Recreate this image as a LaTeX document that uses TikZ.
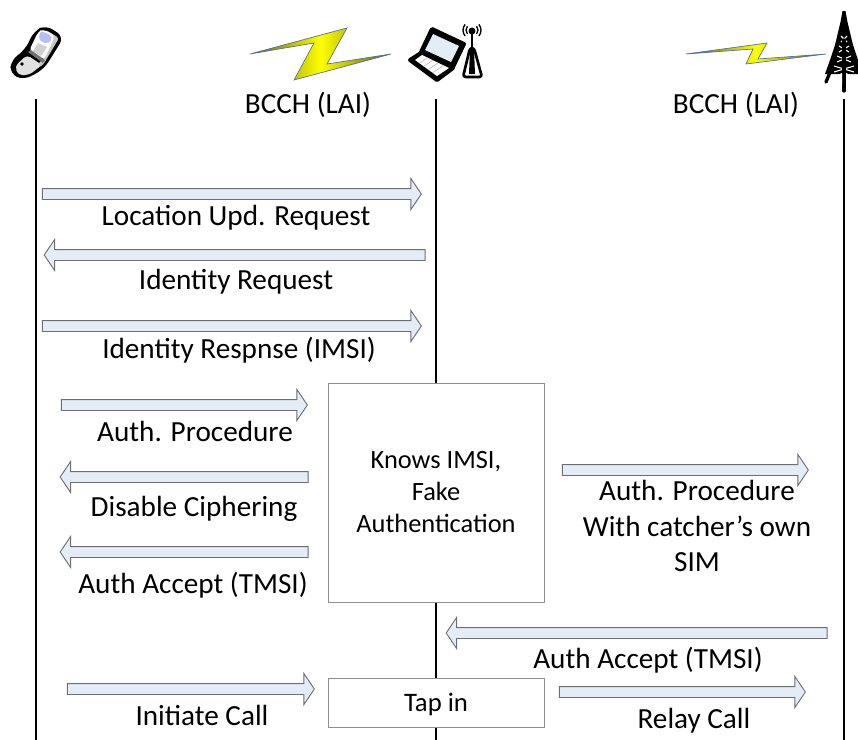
\documentclass[tikz,border=0pt]{standalone}
\usepackage{fontspec}
\setmainfont{Carlito}
\usetikzlibrary{shapes.arrows, shadings, calc}

\definecolor{arrowfill}{HTML}{E4ECF7}
\definecolor{arrowline}{HTML}{6B6F73}
\definecolor{boxline}{HTML}{8F8F8F}
\definecolor{boltdark}{HTML}{5E6010}
\definecolor{boltedge}{HTML}{4F6F98}

\tikzset{
  lifeline/.style={line width=1.1pt, black},
  blockright/.style={draw=arrowline, fill=arrowfill, line width=0.7pt, single arrow, inner xsep=0pt, inner ysep=3.75pt,
    minimum height=#1*0.75pt, minimum width=22.5pt, single arrow head extend=7.5pt, single arrow tip angle=112},
  blockleft/.style={blockright=#1, shape border rotate=180},
  msg/.style={font=\fontsize{21.9}{26.6}\selectfont, align=center, inner sep=0pt},
  boxtext/.style={font=\fontsize{19.8}{24}\selectfont, align=center},
  statebox/.style={draw=boxline, fill=white, line width=0.7pt, inner sep=0pt},
  bolt/.style={draw=boltedge, line width=0.5pt, left color=boltdark, right color=boltdark, middle color=yellow},
  wave/.style={black, line width=1pt}
}

\begin{document}
\begin{tikzpicture}[x=0.75pt, y=-0.75pt]
\useasboundingbox (0,0) rectangle (858,740);
\clip (0,0) rectangle (858,740);

% Lifelines
\coordinate (phonetop) at (36,99);
\coordinate (phonebot) at (36,740);
\coordinate (catchertop) at (436,99);
\coordinate (catcherbot) at (436,740);
\coordinate (towertop) at (844,99);
\coordinate (towerbot) at (844,740);
\draw[lifeline] (phonetop) -- (phonebot);
\draw[lifeline] (catchertop) -- (catcherbot);
\draw[lifeline] (towertop) -- (towerbot);

% Phone
\fill[black, rounded corners=6pt] (46,25) -- (64,37) -- (44,69) -- (24,80) -- (10,74) -- (11,60) -- (25,50) -- (34,31) -- cycle;
\fill[black!22, rounded corners=2pt] (46,30) -- (59,38) -- (43,65) -- (30,72) -- (44,58) -- cycle;
\fill[white, rounded corners=3pt] (43,29) -- (55,36) -- (44,60) -- (29,51) -- (38,32) -- cycle;
\fill[arrowfill!80!blue, rounded corners=3pt] (43,31) -- (53,37) -- (49,44) -- (39,41) -- (39,33) -- cycle;
\fill[black!18] (38,43) -- (47,47) -- (41,56) -- (33,51) -- cycle;
\fill[black!55] (28,52) -- (31,50) -- (45,60) -- (43,63) -- cycle;
\fill[black!12, rounded corners=3pt] (15,66) -- (27,55) -- (42,65) -- (29,75) -- (18,75) -- cycle;
\fill[black] (22,64) circle (1.8);

% Bolt 1
\shade[bolt] (250,54) -- (347,28) -- (327,64) -- (391,54) -- (294,80) -- (314,43) -- cycle;
\node[msg] (bcchone) at (308,105) {BCCH (LAI)};

% Laptop
\draw[black, line width=3pt, line join=round, fill=black] (432,29) -- (464,44) -- (453,67) -- (421,52) -- cycle;
\fill[arrowfill] (433,34) -- (459,46) -- (451,62) -- (425,50) -- cycle;
\draw[black, line width=3pt, line join=round, fill=black] (410,60) -- (421,53) -- (453,68) -- (437,80) -- cycle;
\fill[white] (415,60) -- (422,55) -- (449,68) -- (437,76) -- cycle;
\foreach \s in {0.2,0.4,0.6,0.8}
  \draw[black!30, line width=0.4pt] ($(422,55)!\s!(449,68)$) -- ($(415,60)!\s!(437,76)$);

% Antenna
\draw[black, line width=2pt, line join=round, fill=white, rounded corners=2pt] (470,48) -- (474,48) -- (482,77) -- (463,77) -- cycle;
\fill[black] (470,49) -- (474,49) -- (475,74) -- (469,74) -- cycle;
\draw[black, line width=1.6pt] (472,33) -- (472,49);
\fill[black] (472,31) circle (3.5);
\draw[wave] (467.4,34) arc (140:220:6);
\draw[wave] (476.6,34) arc (40:-40:6);
\draw[wave] (465.1,36) arc (140:220:9);
\draw[wave] (478.9,36) arc (40:-40:9);

% Bolt 2
\shade[bolt] (686,54) -- (767,43) -- (758,59) -- (826,54) -- (746,64) -- (753,49) -- cycle;
\node[msg] (bcchtwo) at (736,105) {BCCH (LAI)};

% Tower
\fill[black] (842.5,11) -- (845.5,11) -- (847.5,22) -- (853,45) -- (858,60) -- (863,74) -- (825,74) -- (830,60) -- (835,45) -- (840.5,22) -- cycle;
\foreach \y/\w in {36/3,46/5,56/7,66/10}
  \draw[white, line width=0.8pt] (844-\w,\y) -- (844+\w,\y+6) (844+\w,\y) -- (844-\w,\y+6);
\draw[black, line width=2.5pt, line cap=round] (844,40) -- (844,91);
\draw[black, line width=2.5pt, line cap=round] (826,82) -- (831,70);
\draw[black, line width=2.5pt, line cap=round] (863,82) -- (858,70);
\fill[white] (835,76) -- (842,73) -- (842,85) -- cycle;
\fill[white] (853,76) -- (846,73) -- (846,85) -- cycle;

% Messages to catcher
\node[blockright=379] (locupd) at (230,194) {};
\node[msg] (locupdtext) at (236,218) {Location Upd. Request};
\node[blockleft=381] (idreq) at (236.5,255) {};
\node[msg] (idreqtext) at (236,282) {Identity Request};
\node[blockright=379] (idres) at (230,326) {};
\node[msg] (idrestext) at (239,350) {Identity Respnse (IMSI)};

% Catcher boxes
\node[statebox, minimum width=162pt, minimum height=164.25pt, boxtext] (knows) at (436,492.5) {Knows IMSI,\\Fake\\Authentication};
\node[statebox, minimum width=162pt, minimum height=36.75pt, font=\fontsize{20}{24}\selectfont, text height=16pt] (tapin) at (436,702.5) {Tap in};

% Left side
\node[blockright=246] (authproc) at (182.5,405) {};
\node[msg] (authproctext) at (195,431.5) {Auth. Procedure};
\node[blockleft=248] (disable) at (186,477) {};
\node[msg] (disabletext) at (194,509) {Disable Ciphering};
\node[blockleft=248] (accept) at (186,552) {};
\node[msg] (accepttext) at (193,585) {Auth Accept (TMSI)};

% Right side
\node[blockright=246] (authnet) at (683.5,470) {};
\node[msg] (authnettext) at (697,526) {Auth. Procedure\\With catcher’s own\\SIM};
\node[blockleft=381] (acceptnet) at (638.5,633) {};
\node[msg] (acceptnettext) at (648,660) {Auth Accept (TMSI)};

% Call
\node[blockright=247] (initiate) at (189,689) {};
\node[msg] (initiatetext) at (202,715.5) {Initiate Call};
\node[blockright=246] (relay) at (680.5,692) {};
\node[msg] (relaytext) at (694,721) {Relay Call};
\end{tikzpicture}
\end{document}
